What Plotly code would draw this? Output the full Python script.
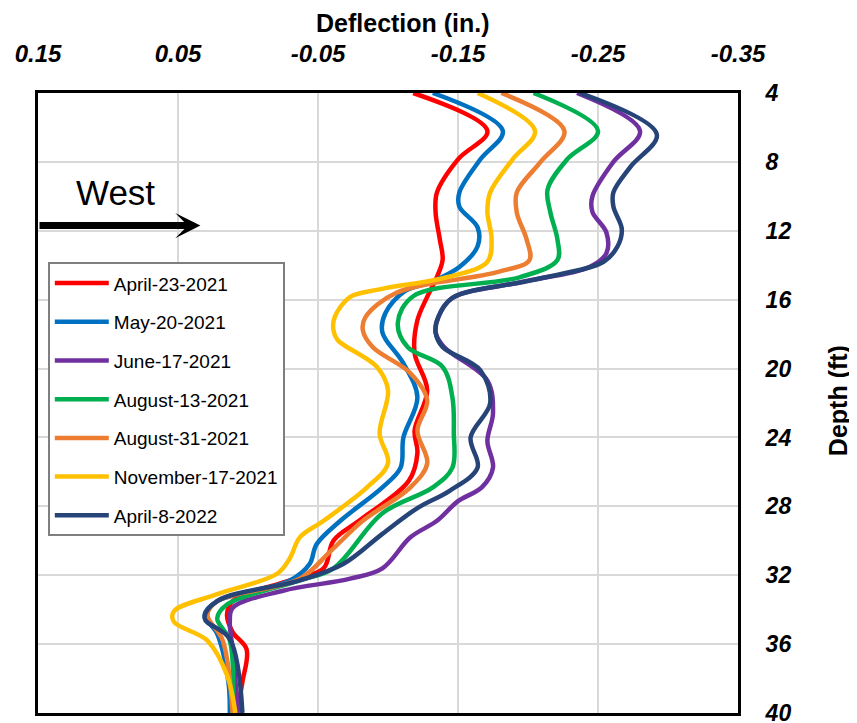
import plotly.graph_objects as go

# ---------------- data ----------------
names = ["April-23-2021", "May-20-2021", "June-17-2021", "August-13-2021",
         "August-31-2021", "November-17-2021", "April-8-2022"]
colors = ["#FF0000", "#0070C0", "#7030A0", "#00B050", "#ED7D31", "#FFC000", "#264478"]

apr21_depth = [4, 6.2, 7.85, 9.77, 10.94, 12.5, 13.7, 14.85, 15.84, 17.2, 19.1, 21.26, 23.6, 24.9,
               26.5, 28.8, 30.0, 31.6, 32.3, 33.5, 34.3, 35.3, 36.3, 38.2, 40]
apr21_defl = [-0.118, -0.171, -0.150, -0.135, -0.134, -0.137, -0.139, -0.134, -0.128, -0.121, -0.119,
              -0.128, -0.119, -0.121, -0.115, -0.080, -0.061, -0.054, -0.030, 0.011, 0.015, 0.011,
              0.001, 0.004, 0.008]

may21_depth = [4, 6.2, 7.85, 9.77, 10.6, 11.8, 12.9, 14.1, 15.0, 15.5, 16.8, 17.9, 19.7, 21.67, 24.0,
               25.75, 26.9, 28.84, 30.2, 31.35, 32.3, 33.5, 34.3, 35.4, 38.2, 40]
may21_defl = [-0.132, -0.182, -0.166, -0.151, -0.151, -0.164, -0.164, -0.151, -0.130, -0.112, -0.098,
              -0.096, -0.111, -0.121, -0.111, -0.109, -0.096, -0.066, -0.049, -0.044, -0.030, 0.022,
              0.031, 0.022, 0.014, 0.013]

jun21_depth = [4, 6.2, 8.0, 10.0, 10.9, 12.1, 13.3, 14.1, 15.0, 15.9, 17.0, 17.9, 18.75, 20.7, 22.6,
               24.2, 25.75, 26.9, 27.7, 28.84, 29.8, 31.6, 32.2, 32.9, 33.9, 34.7, 36.3, 40]
jun21_defl = [-0.235, -0.280, -0.261, -0.246, -0.246, -0.256, -0.256, -0.244, -0.194, -0.146, -0.136,
              -0.134, -0.140, -0.171, -0.175, -0.171, -0.175, -0.167, -0.150, -0.135, -0.116, -0.096,
              -0.073, -0.025, 0.011, 0.013, 0.011, 0.007]

aug13_depth = [4, 6.2, 7.85, 9.6, 10.94, 12.5, 13.7, 14.7, 15.8, 17.35, 18.75, 19.9, 21.67, 23.7,
               25.75, 26.9, 28.4, 31.6, 32.3, 33.7, 34.5, 35.8, 40]
aug13_defl = [-0.204, -0.250, -0.228, -0.214, -0.216, -0.221, -0.221, -0.194, -0.118, -0.107, -0.114,
              -0.139, -0.146, -0.147, -0.146, -0.132, -0.096, -0.061, -0.037, 0.015, 0.022, 0.013,
              0.011]

aug31_depth = [4, 6.2, 8.0, 9.77, 10.94, 12.5, 13.7, 14.4, 15.6, 17.0, 17.76, 18.75, 20.27, 21.84,
               23.6, 25.5, 26.9, 28.84, 30.6, 32.2, 33.5, 34.3, 35.8, 40]
aug31_defl = [-0.181, -0.226, -0.209, -0.192, -0.192, -0.199, -0.201, -0.178, -0.106, -0.084, -0.082,
              -0.089, -0.116, -0.128, -0.121, -0.128, -0.116, -0.082, -0.059, -0.037, 0.022, 0.029,
              0.018, 0.011]

nov21_depth = [4, 6.2, 7.85, 9.77, 10.9, 12.5, 13.8, 14.7, 15.4, 15.84, 17.0, 17.76, 18.34, 19.9,
               21.26, 23.77, 25.5, 26.9, 28.84, 29.8, 31.0, 31.9, 33.1, 34.1, 34.7, 35.8, 37.8, 40]
nov21_defl = [-0.164, -0.205, -0.189, -0.173, -0.171, -0.174, -0.171, -0.142, -0.094, -0.073, -0.062,
              -0.061, -0.064, -0.092, -0.100, -0.094, -0.100, -0.085, -0.054, -0.037, -0.030, -0.021,
              0.022, 0.053, 0.053, 0.029, 0.015, 0.009]

apr22_depth = [4, 6.4, 8.3, 9.77, 10.6, 11.9, 12.9, 13.8, 14.85, 15.9, 17.0, 17.9, 18.75, 20.1, 22.0,
               24.0, 25.75, 27.1, 28.1, 29.6, 31.35, 32.3, 33.5, 34.5, 35.7, 40]
apr22_defl = [-0.237, -0.292, -0.273, -0.261, -0.261, -0.267, -0.264, -0.254, -0.204, -0.146, -0.136,
              -0.134, -0.139, -0.166, -0.173, -0.159, -0.164, -0.144, -0.121, -0.096, -0.068, -0.037,
              0.022, 0.031, 0.013, 0.004]

x_ticks = [0.15, 0.05, -0.05, -0.15, -0.25, -0.35]
x_ticktext = ["0.15", "0.05", "-0.05", "-0.15", "-0.25", "-0.35"]
y_ticks = [4, 8, 12, 16, 20, 24, 28, 32, 36, 40]

series = [
    (apr21_defl, apr21_depth),
    (may21_defl, may21_depth),
    (jun21_defl, jun21_depth),
    (aug13_defl, aug13_depth),
    (aug31_defl, aug31_depth),
    (nov21_defl, nov21_depth),
    (apr22_defl, apr22_depth),
]

FONT = "Liberation Sans, Arial, sans-serif"

fig = go.Figure()
for i, ((xd, yd), name, col) in enumerate(zip(series, names, colors)):
    fig.add_trace(go.Scatter(
        x=xd, y=yd, name=name, mode="lines",
        line=dict(color=col, width=4.5, shape="spline", smoothing=1.0),
        legendgroup=f"g{i}",
    ))

# "West" direction arrow
fig.add_annotation(x=0.034, y=11.7, ax=0.15, ay=11.7, xref="x", yref="y", axref="x", ayref="y",
                   text="", showarrow=True, arrowhead=3, arrowsize=0.6, arrowwidth=7,
                   arrowcolor="black")
fig.add_annotation(x=0.095, y=9.75, xref="x", yref="y", text="West", showarrow=False,
                   font=dict(family=FONT, size=35, color="black"))

# axis titles
fig.add_annotation(x=0.522, y=1.0, xref="paper", yref="paper", yshift=70, yanchor="middle",
                   text="Deflection (in.)", showarrow=False,
                   font=dict(family=FONT, size=25, weight="bold", color="black"))
fig.add_annotation(x=1.0, y=0.503, xref="paper", yref="paper", xshift=100, xanchor="center",
                   text="Depth (ft)", textangle=-90, showarrow=False,
                   font=dict(family=FONT, size=25, weight="bold", color="black"))

# page body has an 8px margin, so the figure is 8px smaller than the window on each axis
fig.update_layout(
    width=849, height=715,
    margin=dict(l=30, r=119, t=85, b=10, autoexpand=False),
    paper_bgcolor="white", plot_bgcolor="white",
    font=dict(family=FONT, color="black"),
    showlegend=True,
    legend=dict(x=0.014, y=0.727, xanchor="left", yanchor="top",
                bgcolor="white", bordercolor="#7f7f7f", borderwidth=2,
                font=dict(family=FONT, size=19, color="black"),
                itemwidth=54, tracegroupgap=11),
    xaxis=dict(
        side="top", range=[0.15, -0.35], tickvals=x_ticks, ticktext=x_ticktext,
        showgrid=True, gridcolor="#d9d9d9", gridwidth=2, zeroline=False,
        showline=True, mirror=True, linecolor="black", linewidth=3,
        ticks="", ticklabelstandoff=18, automargin=False, ticklabeloverflow="allow",
        tickfont=dict(family=FONT, size=24, weight="bold", style="italic"),
    ),
    yaxis=dict(
        side="right", range=[40, 4], tickvals=y_ticks,
        showgrid=True, gridcolor="#d9d9d9", gridwidth=2, zeroline=False,
        showline=True, mirror=True, linecolor="black", linewidth=3,
        ticks="", ticklabelstandoff=20, automargin=False, ticklabeloverflow="allow",
        tickfont=dict(family=FONT, size=23, weight="bold", style="italic"),
    ),
)

fig.write_html("out.html")
